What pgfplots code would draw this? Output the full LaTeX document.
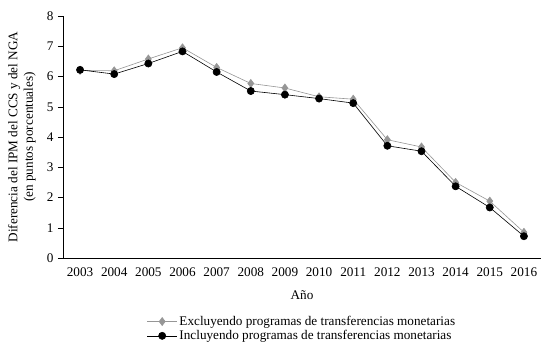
\documentclass[border=0pt]{standalone}
\usepackage{fontspec}
\setmainfont{Liberation Serif}
\usepackage{pgfplots}
\pgfplotsset{compat=1.18}

\definecolor{greyline}{RGB}{150,150,150}

\begin{document}
\fontsize{13.2}{15.5}\selectfont
\begin{tikzpicture}
\useasboundingbox (-63pt,-87pt) rectangle (486pt,258pt);
\begin{axis}[
  scale only axis,
  width=478pt, height=242pt,
  xmin=-0.5, xmax=13.5,
  ymin=0, ymax=8,
  axis x line*=bottom,
  axis y line*=left,
  xtick={0,...,13},
  xticklabels={2003,2004,2005,2006,2007,2008,2009,2010,2011,2012,2013,2014,2015,2016},
  x tick style={draw=none},
  minor xtick={-0.5,0.5,...,13.5},
  minor tick length=5pt,
  major tick length=5pt,
  ytick={0,...,8},
  tick align=outside,
  tick style={black, thin},
  /pgf/number format/assume math mode=true,
  xlabel={Año},
  xlabel style={at={(axis description cs:0.5,0)}, anchor=center, yshift=-37pt},
  ylabel={Diferencia del IPM del CCS y del NGA\\(en puntos porcentuales)},
  ylabel style={align=center, at={(axis description cs:-0.0858,0.5)}, anchor=center},
  legend style={at={(0.5,-0.222)}, anchor=north, draw=none, fill=none,
    row sep=-1pt, font=\fontsize{13.2}{15.5}\selectfont},
  legend cell align=left,
  legend image code/.code={
    \draw[mark repeat=2, mark phase=2, #1] plot coordinates {(0pt,0pt) (15pt,0pt) (30pt,0pt)};
  },
  clip=false,
]

% Excluyendo programas de transferencias monetarias
\addplot[color=greyline, semithick, mark=diamond*, mark size=4pt,
  mark options={fill=greyline, draw=greyline}] coordinates {
  (0,6.20) (1,6.19) (2,6.58) (3,6.95) (4,6.30) (5,5.77) (6,5.62)
  (7,5.33) (8,5.25) (9,3.91) (10,3.67) (11,2.50) (12,1.88) (13,0.85)
};
\addlegendentry{Excluyendo programas de transferencias monetarias}

% Incluyendo programas de transferencias monetarias
\addplot[color=black, semithick, mark=*, mark size=3.6pt] coordinates {
  (0,6.22) (1,6.08) (2,6.43) (3,6.83) (4,6.15) (5,5.52) (6,5.40)
  (7,5.27) (8,5.12) (9,3.71) (10,3.53) (11,2.37) (12,1.67) (13,0.72)
};
\addlegendentry{Incluyendo programas de transferencias monetarias}

\end{axis}
\end{tikzpicture}
\end{document}
